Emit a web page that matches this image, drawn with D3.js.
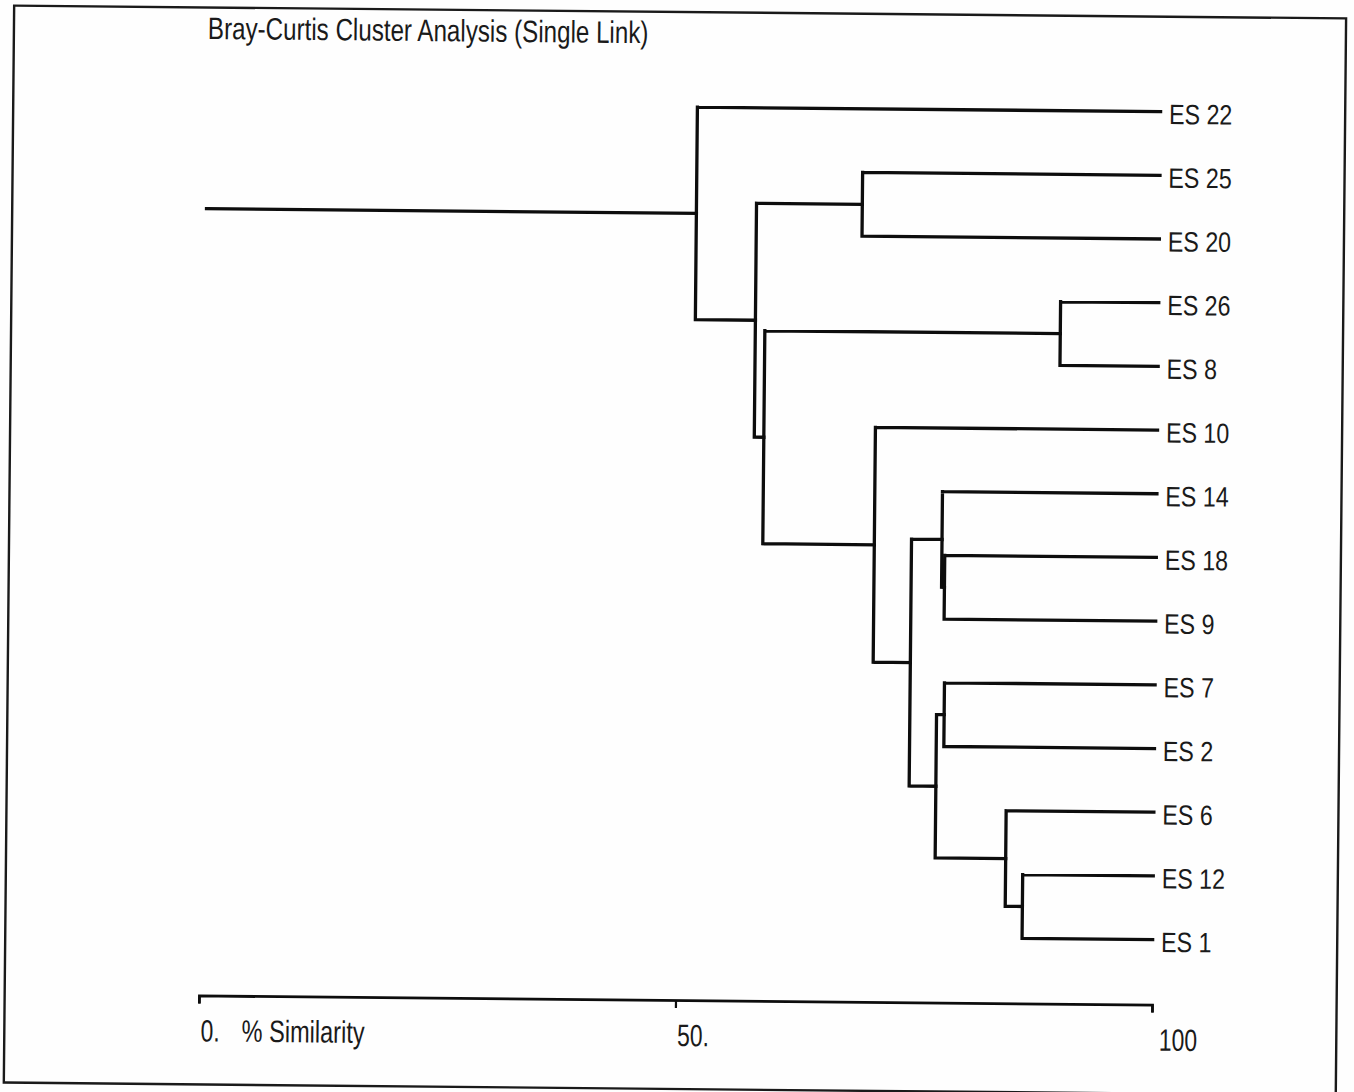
<!DOCTYPE html>
<html>
<head>
<meta charset="utf-8">
<script src="https://cdn.jsdelivr.net/npm/d3@7"></script>
<style>
  html, body { margin: 0; padding: 0; background: #fff; }
  svg { display: block; }
  text { font-family: "Liberation Sans", Arial, sans-serif; fill: #1a1a1a; }
</style>
</head>
<body>
<svg id="chart"></svg>
<script>
const W = 1354, H = 1092;

// leaf order, top to bottom
const leafNames = ["ES 22", "ES 25", "ES 20", "ES 26", "ES 8", "ES 10", "ES 14",
                   "ES 18", "ES 9", "ES 7", "ES 2", "ES 6", "ES 12", "ES 1"];

// merges: node "n<i+1>" joins mergeA[i] and mergeB[i] at mergeSim[i] (% similarity)
const mergeA   = ["ES 12", "ES 6", "ES 26", "ES 7", "n4", "ES 18", "ES 14", "n7", "ES 10", "ES 25", "n3", "n10", "ES 22"];
const mergeB   = ["ES 1",  "n1",   "ES 8",  "ES 2", "n2", "ES 9",  "n6",    "n5", "n8",    "ES 20", "n9", "n11", "n12"];
const mergeSim = [86.3,    84.5,   89.7,    77.9,   77.1, 77.8,    77.5,    74.3, 70.4,    68.8,    58.7, 57.7,  51.4];

const tickValues = [0, 50, 100];
const tickLabels = ["0.", "50.", "100"];
const title = "Bray-Curtis Cluster Analysis (Single Link)";
const axisTitle = "% Similarity";

// build tree from merge list
const nodes = {};
leafNames.forEach(n => { nodes[n] = {name: n, sim: 100}; });
mergeA.forEach((a, i) => {
    nodes["n" + (i + 1)] = {name: "n" + (i + 1), sim: mergeSim[i], children: [nodes[a], nodes[mergeB[i]]]};
});
const root = d3.hierarchy(nodes["n" + mergeA.length]);

const x = d3.scaleLinear().domain([0, 100]).range([203.3, 1156.4]);
const y = d3.scalePoint().domain(leafNames).range([107, 935]);

root.eachAfter(d => {
    if (!d.children) d.y = y(d.data.name);
    else d.y = (d.children[0].y + d.children[d.children.length - 1].y) / 2;
    d.x = x(d.data.sim);
});

const svg = d3.select('#chart').attr('width', W).attr('height', H);
svg.append('rect').attr('width', W).attr('height', H).attr('fill', '#fefefe');

// scanned page is slightly tilted
const g = svg.append('g').attr('transform', 'rotate(0.55, 677, 546)');

g.append('rect')
    .attr('x', 9).attr('y', 12)
    .attr('width', 1332).attr('height', 1077)
    .attr('fill', 'none').attr('stroke', '#1a1a1a').attr('stroke-width', 2.4);

g.append('text')
    .attr('transform', `translate(203, 43.5) scale(0.78, 1)`)
    .style('font-size', '31px')
    .text(title);

// branches
const links = g.append('g')
    .attr('fill', 'none')
    .attr('stroke', '#0d0d0d')
    .attr('stroke-width', 3.3)
    .attr('stroke-linecap', 'square');

links.append('path').attr('d', `M${x(0)},${root.y}H${root.x}`);

links.selectAll('.branch')
    .data(root.descendants().filter(d => d.children))
    .join('path')
    .classed('branch', true)
    .attr('d', d => {
        const c = d.children;
        let p = `M${d.x},${c[0].y}V${c[c.length - 1].y}`;
        c.forEach(k => { p += `M${d.x},${k.y}H${k.x}`; });
        return p;
    });

// leaf labels
g.selectAll('.leaf')
    .data(root.leaves())
    .join('text')
    .classed('leaf', true)
    .attr('transform', d => `translate(${d.x + 8.5}, ${d.y + 12.3}) scale(0.83, 1)`)
    .style('font-size', '28px')
    .text(d => d.data.name);

// axis
const xAxis = d3.axisBottom(x)
    .tickValues(tickValues)
    .tickFormat((d, i) => tickLabels[i])
    .tickSizeInner(8)
    .tickSizeOuter(8);

const axisG = g.append('g')
    .attr('transform', 'translate(0, 1000)')
    .call(xAxis);

axisG.select('.domain').attr('stroke', '#0d0d0d').attr('stroke-width', 2.8);
axisG.selectAll('.tick line').attr('stroke', '#0d0d0d').attr('stroke-width', 2.2);
axisG.selectAll('.tick text')
    .attr('y', 46).attr('dy', 0).attr('x', 2)
    .attr('text-anchor', 'start')
    .attr('transform', 'scale(0.74, 1)')
    .attr('fill', '#1a1a1a')
    .style('font-size', '31px')
    .style('font-family', '"Liberation Sans", Arial, sans-serif');
axisG.selectAll('.tick').filter(d => d === 100).select('text').attr('x', 9);

g.append('text')
    .attr('transform', `translate(${x(0) + 43}, 1046) scale(0.76, 1)`)
    .style('font-size', '31px')
    .text(axisTitle);
</script>
</body>
</html>
